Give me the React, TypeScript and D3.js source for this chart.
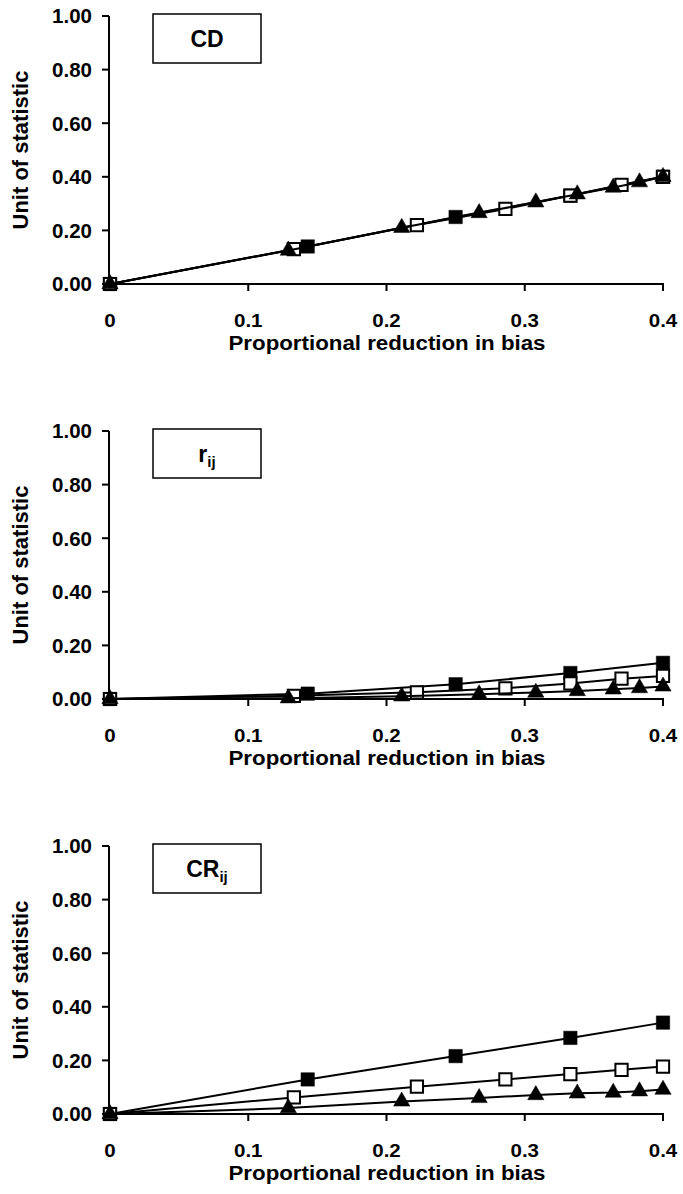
import React from 'react';
import * as d3 from 'd3';

const xTicks = [0, 0.1, 0.2, 0.3, 0.4];
const xTickLabels = ['0', '0.1', '0.2', '0.3', '0.4'];
const yTicks = [0, 0.2, 0.4, 0.6, 0.8, 1.0];
const yTickLabels = ['0.00', '0.20', '0.40', '0.60', '0.80', '1.00'];

const xFilled = [0, 0.143, 0.25, 0.333, 0.4];
const xOpen = [0, 0.133, 0.222, 0.286, 0.333, 0.37, 0.4];
const xTri = [0, 0.129, 0.211, 0.267, 0.308, 0.338, 0.364, 0.383, 0.4];

const cdFilled = [0, 0.14, 0.25, 0.33, 0.4];
const cdOpen = [0, 0.13, 0.22, 0.28, 0.33, 0.37, 0.4];
const cdTri = [0, 0.125, 0.21, 0.265, 0.305, 0.335, 0.36, 0.38, 0.4];

const rFilled = [0, 0.02, 0.055, 0.097, 0.135];
const rOpen = [0, 0.012, 0.025, 0.04, 0.058, 0.076, 0.086];
const rTri = [0, 0.003, 0.01, 0.018, 0.024, 0.03, 0.036, 0.041, 0.047];

const crFilled = [0, 0.129, 0.216, 0.284, 0.341];
const crOpen = [0, 0.062, 0.102, 0.129, 0.149, 0.165, 0.177];
const crTri = [0, 0.022, 0.047, 0.06, 0.071, 0.077, 0.08, 0.085, 0.091];

const panels = [
  { main: 'CD', sub: '', top: 16, filled: cdFilled, open: cdOpen, tri: cdTri },
  { main: 'r', sub: 'ij', top: 431, filled: rFilled, open: rOpen, tri: rTri },
  { main: 'CR', sub: 'ij', top: 846, filled: crFilled, open: crOpen, tri: crTri },
];

const FONT = '"Liberation Sans", Arial, sans-serif';
const PLOT_H = 268;
const xScale = d3.scaleLinear().domain([0, 0.4]).range([110, 663]);

const filledSquarePath = d3.symbol().type(d3.symbolSquare).size(180)()!;
const openSquarePath = d3.symbol().type(d3.symbolSquare).size(150)()!;
const triPath = d3.symbol().type(d3.symbolTriangle).size(115)()!;

function Panel({ p }: { p: typeof panels[number] }) {
  const y = d3.scaleLinear().domain([0, 1]).range([p.top + PLOT_H, p.top]);
  const line = d3.line<[number, number]>().x(d => xScale(d[0])).y(d => y(d[1]));
  const axisY = p.top + PLOT_H;
  const series = [
    { xs: xFilled, ys: p.filled, kind: 'filled' },
    { xs: xOpen, ys: p.open, kind: 'open' },
    { xs: xTri, ys: p.tri, kind: 'tri' },
  ];
  return (
    <g>
      {/* y axis */}
      <line x1={109} x2={109} y1={p.top} y2={axisY} stroke="#000" strokeWidth={2} />
      {yTicks.map((t, i) => (
        <g key={t}>
          <line x1={102} x2={109} y1={y(t)} y2={y(t)} stroke="#000" strokeWidth={2} />
          <text x={92} y={y(t)} dy="0.36em" textAnchor="end" fontFamily={FONT} fontWeight="bold" fontSize={20.5}>
            {yTickLabels[i]}
          </text>
        </g>
      ))}
      {/* x axis */}
      <line x1={109} x2={664} y1={axisY} y2={axisY} stroke="#000" strokeWidth={2} />
      {xTicks.map((t, i) => (
        <g key={t}>
          <line x1={xScale(t)} x2={xScale(t)} y1={axisY} y2={axisY + 7} stroke="#000" strokeWidth={2} />
          <text
            transform={`translate(${xScale(t)},${axisY + 43}) scale(1.08,1)`}
            textAnchor="middle"
            fontFamily={FONT}
            fontWeight="bold"
            fontSize={19}
          >
            {xTickLabels[i]}
          </text>
        </g>
      ))}
      <text
        transform={`translate(387,${axisY + 65.5}) scale(1.115,1)`}
        textAnchor="middle"
        fontFamily={FONT}
        fontWeight="bold"
        fontSize={20}
      >
        Proportional reduction in bias
      </text>
      <text transform={`translate(28,${p.top + PLOT_H / 2}) rotate(-90)`} textAnchor="middle" fontFamily={FONT} fontWeight="bold" fontSize={22}>
        Unit of statistic
      </text>
      {/* legend box */}
      <rect x={153} y={p.top - 2} width={108} height={49} fill="#fff" stroke="#000" strokeWidth={1.5} />
      <text x={207} y={p.top + 31} textAnchor="middle" fontFamily={FONT} fontWeight="bold" fontSize={23}>
        {p.main}
        {p.sub && (
          <tspan fontSize={15} dy={5}>{p.sub}</tspan>
        )}
      </text>
      {/* series */}
      {series.map(s => {
        const pts = s.xs.map((xv, i) => [xv, s.ys[i]] as [number, number]);
        return (
          <g key={s.kind}>
            <path d={line(pts)!} fill="none" stroke="#000" strokeWidth={2} />
            {pts.map((d, i) => (
              <path
                key={i}
                transform={`translate(${xScale(d[0])},${y(d[1])})`}
                d={s.kind === 'tri' ? triPath : s.kind === 'open' ? openSquarePath : filledSquarePath}
                fill={s.kind === 'open' ? '#fff' : '#000'}
                stroke="#000"
                strokeWidth={s.kind === 'open' ? 2 : 0.5}
              />
            ))}
          </g>
        );
      })}
    </g>
  );
}

export default function App() {
  return (
    <svg width={683} height={1194} style={{ position: 'absolute', left: 0, top: 0, background: '#fff' }}>
      <rect x={0} y={0} width={683} height={1194} fill="#fff" />
      {panels.map(p => (
        <Panel key={p.main} p={p} />
      ))}
    </svg>
  );
}
